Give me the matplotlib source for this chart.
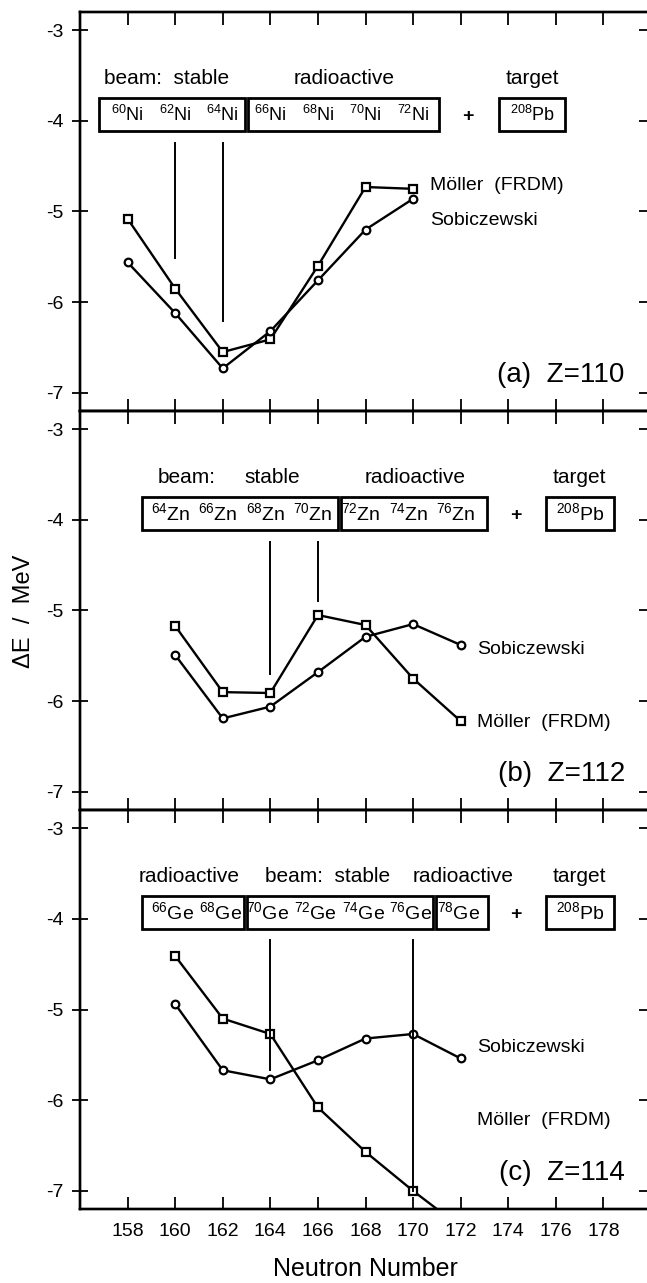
import matplotlib.pyplot as plt
from matplotlib.patches import Rectangle

plt.rcParams['font.family'] = ['Liberation Sans', 'DejaVu Sans']
plt.rcParams['mathtext.fontset'] = 'custom'
plt.rcParams['mathtext.rm'] = 'Liberation Sans'

# neutron numbers of the compound nuclei
neutrons_110 = [158, 160, 162, 164, 166, 168, 170]
neutrons = [160, 162, 164, 166, 168, 170, 172]

# Z=110 (Ni beams)
moller_110 = [-5.08, -5.85, -6.55, -6.41, -5.60, -4.73, -4.75]
sobi_110 = [-5.56, -6.12, -6.73, -6.32, -5.76, -5.20, -4.86]
# Z=112 (Zn beams)
moller_112 = [-5.17, -5.90, -5.91, -5.05, -5.16, -5.75, -6.22]
sobi_112 = [-5.49, -6.19, -6.06, -5.68, -5.29, -5.15, -5.38]
# Z=114 (Ge beams), last moller point is below the frame
moller_114 = [-4.41, -5.10, -5.27, -6.08, -6.57, -7.00, -7.40]
sobi_114 = [-4.94, -5.67, -5.77, -5.56, -5.32, -5.27, -5.54]

ni_masses = ['60', '62', '64', '66', '68', '70', '72']
zn_masses = ['64', '66', '68', '70', '72', '74', '76']
ge_masses = ['66', '68', '70', '72', '74', '76', '78']

xticks = list(range(158, 180, 2))
yticks = [-3, -4, -5, -6, -7]


def draw_panel(ax, nn, moller, sobi, element, masses, mass_x, boxes, pb_box,
               plus_x, beam_lines, headers, legend_pos, label, iso_size):
    ax.plot(nn, moller, color='black', lw=1.7, marker='s', ms=5.5,
            mfc='white', mec='black', mew=1.6)
    ax.plot(nn, sobi, color='black', lw=1.7, marker='o', ms=5.5,
            mfc='white', mec='black', mew=1.6)

    # isotope boxes
    for x0, x1 in boxes + [pb_box]:
        ax.add_patch(Rectangle((x0, -4.11), x1 - x0, 0.36, fill=False,
                               lw=2, ec='black'))
    for m, x in zip(masses, mass_x):
        ax.text(x, -3.93, r'$^{\mathrm{' + m + '}}$' + element, ha='center',
                va='center', fontsize=iso_size)
    ax.text((pb_box[0] + pb_box[1]) / 2, -3.93, r'$^{\mathrm{208}}$Pb',
            ha='center', va='center', fontsize=iso_size)
    ax.text(plus_x, -3.95, '+', ha='center', va='center', fontsize=14,
            fontweight='bold')

    for txt, x in headers:
        ax.text(x, -3.53, txt, ha='center', va='center', fontsize=15)

    # vertical markers of the stable beams
    for x, y0, y1 in beam_lines:
        ax.plot([x, x], [y0, y1], color='black', lw=1.4)

    (mx, my), (sx, sy) = legend_pos
    ax.text(mx, my, u'M\u00f6ller  (FRDM)', fontsize=14, va='center')
    ax.text(sx, sy, 'Sobiczewski', fontsize=14, va='center')
    ax.text(178.9, -6.8, label, fontsize=20, ha='right', va='center')

    ax.set_xlim(156, 180)
    ax.set_ylim(-7.2, -2.8)
    ax.set_xticks(xticks)
    ax.set_yticks(yticks)
    ax.tick_params(axis='x', which='both', direction='in', top=True,
                   length=9, width=1.3, labelsize=14, pad=10)
    ax.tick_params(axis='y', which='both', direction='inout', right=False,
                   length=12, width=1.3, labelsize=14, pad=6)
    ax.set_yticklabels([str(t) for t in yticks])
    for s in ax.spines.values():
        s.set_linewidth(1.7)
    # right hand ticks pointing inward
    ax2 = ax.twinx()
    ax2.set_ylim(-7.2, -2.8)
    ax2.set_yticks(yticks)
    ax2.tick_params(axis='y', direction='in', length=9, width=1.3,
                    labelright=False)
    for s in ax2.spines.values():
        s.set_linewidth(1.7)


fig = plt.figure(figsize=(6.47, 12.83), dpi=100)
left = 80 / 647
width = (651 - 80) / 647
h = 399 / 1283
bottoms = [1 - 411 / 1283, 1 - 810 / 1283, 1 - 1209 / 1283]
ax_a = fig.add_axes([left, bottoms[0], width, h])
ax_b = fig.add_axes([left, bottoms[1], width, h])
ax_c = fig.add_axes([left, bottoms[2], width, h])

draw_panel(ax_a, neutrons_110, moller_110, sobi_110, 'Ni', ni_masses,
           [158, 160, 162, 164, 166, 168, 170],
           [(156.8, 162.95), (163.05, 171.1)], (173.6, 176.4), 172.3,
           [(160, -4.24, -5.51), (162, -4.24, -6.21)],
           [('beam:  stable', 159.65), ('radioactive', 167.1), ('target', 175.0)],
           [(170.7, -4.71), (170.7, -5.10)], '(a)  Z=110', 13)

draw_panel(ax_b, neutrons, moller_112, sobi_112, 'Zn', zn_masses,
           [159.8, 161.8, 163.8, 165.8, 167.8, 169.8, 171.8],
           [(158.6, 166.85), (166.95, 173.1)], (175.6, 178.45), 174.3,
           [(164, -4.24, -5.70), (166, -4.24, -4.90)],
           [('beam:', 160.5), ('stable', 164.1), ('radioactive', 170.1),
            ('target', 177.0)],
           [(172.7, -6.23), (172.7, -5.43)], '(b)  Z=112', 14)

draw_panel(ax_c, neutrons, moller_114, sobi_114, 'Ge', ge_masses,
           [159.9, 161.9, 163.9, 165.9, 167.9, 169.9, 171.9],
           [(158.6, 162.9), (163.0, 170.85), (170.95, 173.15)],
           (175.6, 178.45), 174.3,
           [(164, -4.23, -5.67), (170, -4.23, -7.0)],
           [('radioactive', 160.6), ('beam:  stable', 166.4),
            ('radioactive', 172.1), ('target', 177.0)],
           [(172.7, -6.22), (172.7, -5.42)], '(c)  Z=114', 14)

ax_a.tick_params(axis='x', labelbottom=False)
ax_b.tick_params(axis='x', labelbottom=False)
ax_c.set_xlabel('Neutron Number', fontsize=18, labelpad=12)

fig.text(24 / 647, 1 - 611 / 1283, u'\u0394E  /  MeV', rotation=90,
         ha='center', va='center', fontsize=17)

fig.savefig('out.png', dpi=100)
